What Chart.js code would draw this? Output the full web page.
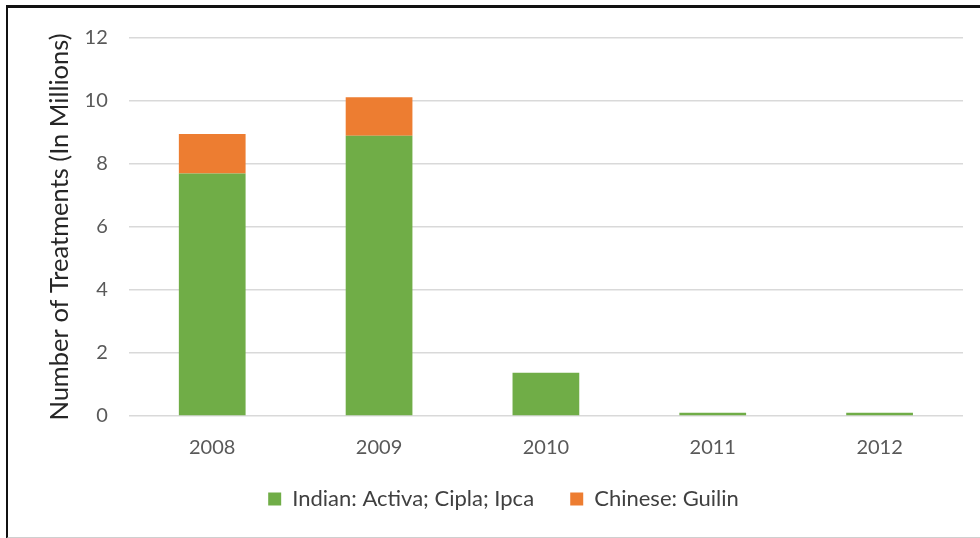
<!DOCTYPE html>
<html>
<head>
<meta charset="utf-8">
<script src="https://cdn.jsdelivr.net/npm/chart.js@4"></script>
<style>
  html, body { margin: 0; padding: 0; background: #fff; }
  #frame {
    position: absolute; left: 6px; top: 5px; width: 990px; height: 529px;
    border-left: 2px solid #111; border-top: 3px solid #111; border-bottom: 2px solid #cfcfcf;
  }
  #wrap { position: absolute; left: 0; top: 0; width: 980px; height: 538px; }
</style>
</head>
<body>
<div id="frame"></div>
<div id="wrap"><canvas id="chart" width="980" height="538"></canvas></div>
<script>
// 연도별 치료 건수 (백만 단위)
const years = ["2008", "2009", "2010", "2011", "2012"];
const indianValues = [7.7, 8.9, 1.37, 0.1, 0.1];   // Indian: Activa; Cipla; Ipca
const chineseValues = [1.25, 1.22, 0, 0, 0];      // Chinese: Guilin
const yTicks = [0, 2, 4, 6, 8, 10, 12];

document.addEventListener("DOMContentLoaded", function () {
    const ctx = document.getElementById("chart").getContext("2d");
    new Chart(ctx, {
        type: "bar",
        data: {
            labels: years,
            datasets: [{
                label: "Indian: Activa; Cipla; Ipca",
                data: indianValues,
                backgroundColor: "#70AD47"
            }, {
                label: "Chinese: Guilin",
                data: chineseValues,
                backgroundColor: "#ED7D31"
            }]
        },
        options: {
            responsive: false,
            animation: false,
            devicePixelRatio: 1,
            layout: { padding: { left: 44, right: 17, top: 38, bottom: 18 } },
            datasets: { bar: { barPercentage: 0.5, categoryPercentage: 0.8 } },
            scales: {
                x: {
                    stacked: true,
                    grid: { display: false, drawTicks: false },
                    border: { display: false },
                    ticks: { color: "#595959", font: { family: "Lato", size: 20 }, padding: 20 }
                },
                y: {
                    stacked: true,
                    min: 0,
                    max: 12,
                    afterBuildTicks: function (axis) {
                        axis.ticks = yTicks.map(v => ({ value: v }));
                    },
                    grid: { color: "#d9d9d9", lineWidth: 1.5, drawTicks: false },
                    border: { display: false },
                    ticks: { color: "#595959", font: { family: "Lato", size: 20 }, padding: 21 },
                    title: {
                        display: true,
                        text: "Number of Treatments (In Millions)",
                        color: "#262626",
                        font: { family: "Lato", size: 25.5 },
                        padding: { top: 0, bottom: -11 }
                    }
                }
            },
            plugins: {
                legend: {
                    position: "bottom",
                    labels: {
                        boxWidth: 13,
                        boxHeight: 13,
                        padding: 8,
                        color: "#404040",
                        font: { family: "Lato", size: 22 },
                        // 항목 사이 간격 넓히기
                        generateLabels: function (chart) {
                            const items = Chart.defaults.plugins.legend.labels.generateLabels(chart);
                            items.forEach((item, i) => {
                                if (i < items.length - 1) item.text = item.text + "\u00a0\u00a0\u00a0\u00a0\u00a0";
                            });
                            return items;
                        }
                    }
                },
                tooltip: { enabled: false }
            }
        }
    });
});
</script>
</body>
</html>
